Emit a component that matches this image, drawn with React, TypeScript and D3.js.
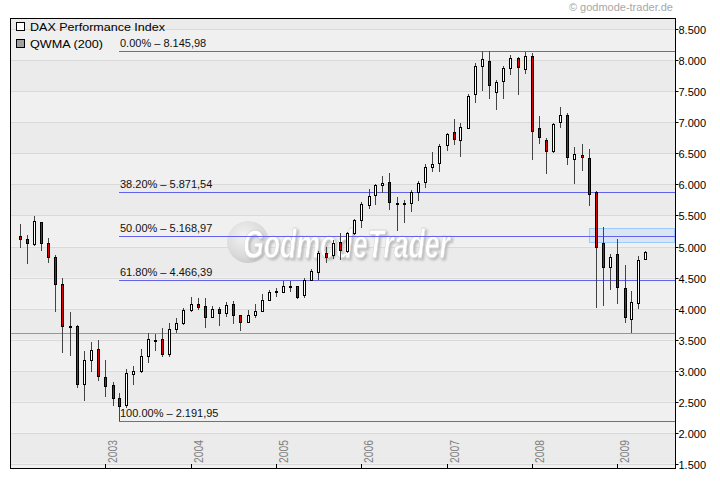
import React from 'react';
import * as d3 from 'd3';

const months = [
  '2002-01','2002-02','2002-03','2002-04','2002-05','2002-06','2002-07','2002-08','2002-09','2002-10','2002-11','2002-12',
  '2003-01','2003-02','2003-03','2003-04','2003-05','2003-06','2003-07','2003-08','2003-09','2003-10','2003-11','2003-12',
  '2004-01','2004-02','2004-03','2004-04','2004-05','2004-06','2004-07','2004-08','2004-09','2004-10','2004-11','2004-12',
  '2005-01','2005-02','2005-03','2005-04','2005-05','2005-06','2005-07','2005-08','2005-09','2005-10','2005-11','2005-12',
  '2006-01','2006-02','2006-03','2006-04','2006-05','2006-06','2006-07','2006-08','2006-09','2006-10','2006-11','2006-12',
  '2007-01','2007-02','2007-03','2007-04','2007-05','2007-06','2007-07','2007-08','2007-09','2007-10','2007-11','2007-12',
  '2008-01','2008-02','2008-03','2008-04','2008-05','2008-06','2008-07','2008-08','2008-09','2008-10','2008-11','2008-12',
  '2009-01','2009-02','2009-03','2009-04','2009-05',
];

const opens = [
  5169,5116,5036,5390,5052,4826,4391,3714,3714,2780,3167,3344,
  2902,2764,2554,2435,2941,2990,3225,3490,3505,3257,3666,3763,
  3978,4069,4040,3869,3994,3924,4070,3895,3785,3893,3960,4135,
  4270,4262,4364,4364,4214,4465,4601,4900,4858,5068,4928,5223,
  5427,5674,5825,5996,6035,5700,5690,5696,5867,6035,6276,6341,
  6624,6840,6728,6914,7453,7904,7984,7485,7656,7872,8033,7872,
  8070,6905,6716,6528,7001,7114,6405,6470,6421,5878,5062,4665,
  4875,4327,3827,4079,4794,
];
const highs = [
  5363,5186,5492,5400,5132,4863,4488,3940,3740,3317,3462,3494,
  3171,2817,2635,3021,3080,3344,3602,3585,3682,3763,3843,4014,
  4187,4170,4166,4040,4030,4110,4127,3900,3977,4075,4235,4300,
  4330,4444,4440,4364,4493,4638,4920,4997,5105,5213,5239,5440,
  5722,5922,6007,6136,6180,5803,5750,5911,6061,6330,6523,6652,
  6834,7055,6985,7453,7962,8155,8155,7683,7909,8086,8049,8134,
  8113,7103,6744,6995,7253,7147,6603,6657,6571,5899,5319,4875,
  5126,4707,4283,4852,4920,
];
const lows = [
  4981,4713,5010,4928,4739,3950,3279,3240,2725,2516,2983,2833,
  2570,2430,2192,2400,2769,2960,3128,3321,3215,3225,3601,3740,
  3950,3978,3692,3850,3720,3860,3757,3634,3770,3842,3950,4120,
  4190,4260,4272,4159,4170,4440,4461,4730,4800,4778,4900,5180,
  5303,5609,5674,5867,5588,5255,5379,5561,5738,5948,6205,6205,
  6544,6641,6447,6898,7317,7511,7377,7200,7377,7764,7441,7780,
  6394,6657,6168,6512,6914,6318,6012,6222,5653,4010,4046,4299,
  4079,3773,3602,3993,4790,
];
const closes = [
  5116,5052,5406,5052,4826,4391,3714,3712,2780,3167,3328,2902,
  2757,2548,2419,2957,2990,3236,3505,3495,3268,3666,3763,3978,
  4069,4021,3857,3994,3924,4054,3895,3785,3892,3960,4135,4268,
  4280,4364,4356,4182,4461,4605,4900,4842,5052,4933,5213,5427,
  5685,5814,5991,6023,5706,5690,5695,5874,6019,6276,6325,6615,
  6808,6728,6931,7425,7904,8017,7591,7646,7872,8033,7881,8075,
  6866,6753,6544,6969,7114,6438,6486,6438,5835,4997,4675,4831,
  4336,3853,4106,4778,4912,
];

const yTicks = [1500, 2000, 2500, 3000, 3500, 4000, 4500, 5000, 5500, 6000, 6500, 7000, 7500, 8000, 8500];
const yearTicks = [2003, 2004, 2005, 2006, 2007, 2008, 2009];

const fibLevels = [
  { label: '0.00% – 8.145,98', value: 8145.98 },
  { label: '38.20% – 5.871,54', value: 5871.54 },
  { label: '50.00% – 5.168,97', value: 5168.97 },
  { label: '61.80% – 4.466,39', value: 4466.39 },
  { label: '100.00% – 2.191,95', value: 2191.95 },
];
const fibStart = '2003-03';
const supportLevel = 3600;
const zoneStart = '2008-09';
const zoneLow = 5068;
const zoneHigh = 5293;

const legendItems = ['DAX Performance Index', 'QWMA (200)'];

const parse = d3.timeParse('%Y-%m');

export default function App() {
  const L = 10, T = 18, R = 675, B = 468;
  const x = d3.scaleTime().domain([new Date(2002, 0, 1), new Date(2009, 0, 1)]).range([20, 617.3]);
  const y = d3.scaleLinear().domain([1500, 8500]).range([463.7, 29.3]);
  const fmt = (v: number) => d3.format(',')(v).replace(/,/g, '.');

  const bands = d3.range(1000, 9000, 500);
  const font = "'Liberation Sans', Arial, sans-serif";

  return (
    <svg width={720} height={481} style={{ position: 'absolute', left: 0, top: 0, background: '#fff' }} fontFamily={font}>
      <defs>
        <clipPath id="plotClip">
          <rect x={L} y={T} width={R - L} height={B - T} />
        </clipPath>
        <radialGradient id="wmGrad" cx="0.4" cy="0.35" r="0.7">
          <stop offset="0" stopColor="#f2f2f2" />
          <stop offset="0.7" stopColor="#dadada" />
          <stop offset="1" stopColor="#c9c9c9" />
        </radialGradient>
        <filter id="wmShadow" x="-5%" y="-20%" width="110%" height="150%">
          <feDropShadow dx={2} dy={2} stdDeviation={0.8} floodColor="#bdbdbd" floodOpacity={1} />
        </filter>
      </defs>
      <g clipPath="url(#plotClip)">
        {bands.map((v, i) => (
          <rect key={v} x={L} y={y(v + 500)} width={R - L} height={y(v) - y(v + 500)} fill={i % 2 === 1 ? '#ebebeb' : '#f0f0f0'} />
        ))}
        {yTicks.map((v) => (
          <line key={v} x1={L} x2={R} y1={Math.round(y(v)) + 0.5} y2={Math.round(y(v)) + 0.5} stroke="#d9d9d9" strokeWidth={1} />
        ))}
        {/* watermark */}
        <g>
          <circle cx={248} cy={242} r={21} fill="url(#wmGrad)" />
          <text x={243} y={258} fontSize={40} fontWeight="bold" fontStyle="italic" textLength={207} lengthAdjust="spacingAndGlyphs" fill="#ffffff" stroke="#d6d6d6" strokeWidth={0.8} filter="url(#wmShadow)">GodmodeTrader</text>
        </g>
        {/* zone */}
        <rect x={Math.round(x(parse(zoneStart)!)) + 0.5} y={Math.round(y(zoneHigh)) + 0.5} width={R - 1 - Math.round(x(parse(zoneStart)!))} height={Math.round(y(zoneLow)) - Math.round(y(zoneHigh))} fill="#d9e5f5" stroke="#9ccafa" strokeWidth={1} />
        {/* support line */}
        <line x1={L} x2={R} y1={Math.round(y(supportLevel)) + 0.5} y2={Math.round(y(supportLevel)) + 0.5} stroke="#33dd33" strokeWidth={1} />
        {/* fib lines */}
        {fibLevels.map((f) => {
          const yy = Math.round(y(f.value)) + 0.5;
          const x0 = Math.round(x(parse(fibStart)!));
          return (
            <g key={f.label}>
              <line x1={x0} x2={R} y1={yy} y2={yy} stroke="#6262ee" strokeWidth={1} />
              <text x={x0 + 1} y={yy - 4.5} fontSize={11} fill="#111">{f.label}</text>
            </g>
          );
        })}
        {/* candles */}
        {months.map((m, i) => {
          const cx = Math.round(x(parse(m)!));
          const o = opens[i], c = closes[i], h = highs[i], l = lows[i];
          const yo = y(o), yc = y(c);
          const top = Math.round(Math.min(yo, yc));
          const bh = Math.max(1, Math.round(Math.abs(yo - yc)));
          return (
            <g key={m}>
              <line x1={cx + 0.5} x2={cx + 0.5} y1={Math.round(y(h))} y2={Math.round(y(l))} stroke="#444" strokeWidth={1} />
              <rect x={cx - 0.5} y={top + 0.5} width={2} height={bh} fill={c >= o ? '#ffffff' : '#dd0000'} stroke="#000" strokeWidth={1} />
            </g>
          );
        })}
      </g>
      {/* legend */}
      {legendItems.map((t, i) => (
        <g key={t}>
          <rect x={16.5} y={22.5 + i * 17} width={8} height={8} fill={i === 0 ? '#ffffff' : '#a0a0a0'} stroke="#000" strokeWidth={1} />
          <text x={30} y={30.7 + i * 17} fontSize={11.5} fill="#000" textLength={i === 0 ? 135 : 73} lengthAdjust="spacingAndGlyphs">{t}</text>
        </g>
      ))}
      {/* frame */}
      <rect x={L + 0.5} y={T + 0.5} width={R - L} height={B - T} fill="none" stroke="#000" strokeWidth={1} />
      {/* y axis */}
      {yTicks.map((v) => {
        const yy = Math.round(y(v)) + 0.5;
        return (
          <g key={v}>
            <line x1={R} x2={R + 3.5} y1={yy} y2={yy} stroke="#000" />
            <text x={R + 3.5} y={yy + 4} fontSize={11} fill="#000">{fmt(v)}</text>
          </g>
        );
      })}
      {/* x axis */}
      {yearTicks.map((yr) => {
        const xx = Math.round(x(new Date(yr, 0, 1))) + 0.5;
        return (
          <g key={yr}>
            <line x1={xx} x2={xx} y1={464} y2={469} stroke="#000" />
            <text transform={`translate(${xx + 11},463) rotate(-90)`} fontSize={12} fill="#808080" textLength={23} lengthAdjust="spacingAndGlyphs">{yr}</text>
          </g>
        );
      })}
      <text x={673} y={11} textAnchor="end" fontSize={11} fill="#a8a8a8">© godmode-trader.de</text>
    </svg>
  );
}
